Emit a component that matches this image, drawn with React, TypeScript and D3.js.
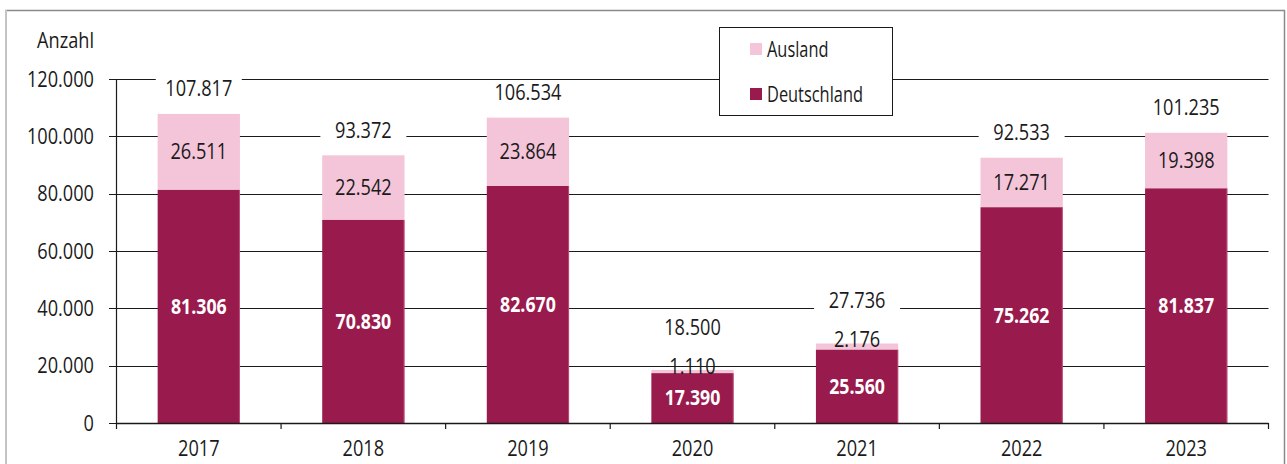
import React from "react";
import * as d3 from "d3";

const years = ["2017", "2018", "2019", "2020", "2021", "2022", "2023"];
const deutschland = [81306, 70830, 82670, 17390, 25560, 75262, 81837];
const ausland = [26511, 22542, 23864, 1110, 2176, 17271, 19398];
const totals = [107817, 93372, 106534, 18500, 27736, 92533, 101235];
const yTicks = [0, 20000, 40000, 60000, 80000, 100000, 120000];
const seriesNames = ["Ausland", "Deutschland"];

const W = 1287;
const H = 464;
const FONT = "'Open Sans', 'Noto Sans', sans-serif";
const C_DE = "#991a4c";
const C_AUS = "#f4c4d9";
const SX = 0.865;

const fmt = (v: number) => {
  const s = Math.round(v).toString();
  return s.replace(/\B(?=(\d{3})+(?!\d))/g, ".");
};

type TProps = {
  x: number;
  y: number;
  anchor?: "start" | "middle" | "end";
  bold?: boolean;
  fill?: string;
  size?: number;
  sx?: number;
  children: React.ReactNode;
};

function T({ x, y, anchor = "middle", bold = false, fill = "#1a1a1a", size = 21, sx = SX, children }: TProps) {
  return (
    <text
      transform={`translate(${x},${y}) scale(${sx},1)`}
      dy="0.36em"
      textAnchor={anchor}
      fontSize={size}
      fontWeight={bold ? 700 : 400}
      fill={fill}
    >
      {children}
    </text>
  );
}

export default function App() {
  const x = d3.scaleBand<string>().domain(years).range([116.5, 1268.5]).paddingInner(0.5).paddingOuter(0.25);
  const y = d3.scaleLinear().domain([0, 120000]).range([423, 79]);
  const step = x.step();
  const boundaries = d3.range(years.length + 1).map((i) => 116.5 + i * step);

  return (
    <svg width={W} height={H} style={{ position: "absolute", left: 0, top: 0 }} fontFamily={FONT}>
      <rect x={0} y={0} width={W} height={H} fill="#fff" />
      {/* outer frame */}
      <line x1={5} x2={1285} y1={10.5} y2={10.5} stroke="#8a8a8a" strokeWidth={1.5} />
      <line x1={1284.5} x2={1284.5} y1={10} y2={H} stroke="#8a8a8a" strokeWidth={1.5} />
      <line x1={6} x2={6} y1={10} y2={H} stroke="#c4c4c4" strokeWidth={2} />

      {/* gridlines + y ticks */}
      {yTicks.map((t) => (
        <g key={t}>
          <line x1={109} x2={1268.5} y1={Math.round(y(t)) + 0.5} y2={Math.round(y(t)) + 0.5} stroke="#1a1a1a" strokeWidth={1} />
          <T x={94} y={y(t)} anchor="end">
            {fmt(t)}
          </T>
        </g>
      ))}
      <T x={94} y={40} anchor="end">
        Anzahl
      </T>
      {/* y axis */}
      <line x1={116.5} x2={116.5} y1={79} y2={423} stroke="#1a1a1a" strokeWidth={1.2} />

      {/* bars */}
      {years.map((yr, i) => {
        const bx = x(yr)!;
        const bw = x.bandwidth();
        const de = deutschland[i];
        const au = ausland[i];
        const top = y(de + au);
        const mid = y(de);
        const small = mid - top < 20;
        const ausY = small ? top - 4 : (top + mid) / 2;
        const totY = small ? top - 43 : top - 25;
        const cx = bx + bw / 2;
        return (
          <g key={yr}>
            <rect x={bx} y={top} width={bw} height={mid - top} fill={C_AUS} />
            <rect x={bx} y={mid} width={bw} height={y(0) - mid} fill={C_DE} />
            <line x1={bx + bw - 0.5} x2={bx + bw - 0.5} y1={mid} y2={y(0)} stroke="#d66a98" strokeWidth={1} opacity={0.6} />
            <T x={cx} y={(mid + y(0)) / 2} bold fill="#fff" size={20.5}>
              {fmt(de)}
            </T>
            <T x={cx} y={ausY}>{fmt(au)}</T>
            <rect x={cx - 43} y={totY - 11} width={86} height={22} fill="#fff" />
            <T x={cx} y={totY}>{fmt(totals[i])}</T>
          </g>
        );
      })}

      {/* x axis */}
      <line x1={116.5} x2={1268.5} y1={423.5} y2={423.5} stroke="#1a1a1a" strokeWidth={1.5} />
      {boundaries.map((b, i) => (
        <line key={i} x1={b} x2={b} y1={423} y2={429} stroke="#1a1a1a" strokeWidth={1.2} />
      ))}
      {years.map((yr) => (
        <T key={yr} x={x(yr)! + x.bandwidth() / 2} y={448}>
          {yr}
        </T>
      ))}

      {/* legend */}
      <rect x={719.5} y={27.5} width={173} height={88} fill="#fff" stroke="#1a1a1a" strokeWidth={1} />
      <rect x={750} y={43} width={12} height={12} fill={C_AUS} />
      <T x={767} y={49} anchor="start" sx={0.78}>
        {seriesNames[0]}
      </T>
      <rect x={750} y={88} width={12} height={12} fill={C_DE} />
      <T x={767} y={94} anchor="start" sx={0.78}>
        {seriesNames[1]}
      </T>
    </svg>
  );
}
